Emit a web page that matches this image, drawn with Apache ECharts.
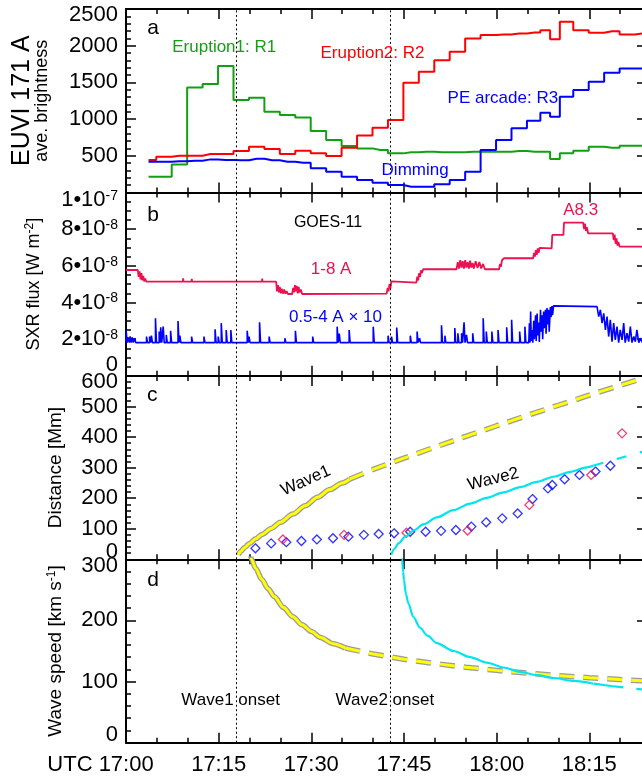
<!DOCTYPE html>
<html>
<head>
<meta charset="utf-8">
<script src="https://cdn.jsdelivr.net/npm/echarts@6/dist/echarts.min.js"></script>
<style>
html,body{margin:0;padding:0;background:#ffffff;}
#chart{width:642px;height:780px;}
</style>
</head>
<body>
<div id="chart"></div>
<script>
// ================= DATA (time = minutes after 17:00 UTC) =================
const xTickValues = [0, 15, 30, 45, 60, 75];
const xTickLabels = ['17:00', '17:15', '17:30', '17:45', '18:00', '18:15'];
const xTickPrefix = 'UTC ';
const onsetTimes = [17.85, 42.85];

// Panel a: EUVI 171 A average brightness
const euviTimes = [3.65, 6.15, 8.65, 11.15, 13.65, 16.15, 18.65, 21.15, 23.65, 26.15, 28.65, 31.15,
  33.65, 36.15, 38.65, 41.15, 43.65, 46.15, 48.65, 51.15, 53.65, 56.15, 58.65, 61.15, 63.65, 66.15,
  68.0, 69.3, 71.15, 73.65, 76.15, 78.65, 81.15, 83.65];
const euviR1 = [214, 214, 382, 1431, 1477, 1722, 1258, 1290, 1100, 1054, 1022, 836,
  714, 632, 600, 577, 532, 546, 555, 546, 546, 555, 555, 555, 564, 555,
  555, 455, 532, 568, 623, 609, 637, 637];
const euviR2 = [441, 487, 500, 500, 523, 523, 564, 623, 591, 523, 568, 532,
  496, 609, 774, 882, 986, 1495, 1644, 1803, 1917, 2098, 2144, 2153, 2167, 2180,
  2212, 2089, 2325, 2212, 2176, 2198, 2153, 2167];
const euviR3 = [419, 419, 423, 432, 450, 441, 437, 459, 437, 419, 405, 328,
  282, 214, 169, 133, 101, 78, 78, 110, 169, 282, 577, 714, 873, 977,
  1086, 1031, 1304, 1395, 1508, 1631, 1690, 1690];
const euviTickValues = [0, 500, 1000, 1500, 2000, 2500];
const euviTickLabels = ['', '500', '1000', '1500', '2000', '2500'];

// Panel b: GOES-11 SXR flux, in units of 1e-8 W m^-2
const sxrTickValues = [0, 2, 4, 6, 8, 10];
const sxrTickMantissa = ['0', '2•10', '4•10', '6•10', '8•10', '1•10'];
const sxrTickExponent = ['', '-8', '-8', '-8', '-8', '-7'];

const sxrLongT = [0, 1.9, 2.05, 2.2, 2.35, 2.5, 2.65, 2.8, 2.95, 3.1, 3.3,
  9.2, 9.25, 9.3, 10.6, 10.65, 10.7, 22.0, 22.05, 22.1,
  24.3, 24.45, 24.6, 24.75, 24.9, 25.05, 25.2, 25.4, 25.6, 25.8, 26.0, 26.2,
  26.9, 27.05, 27.2, 27.35, 27.5, 27.65, 27.8, 27.95, 28.1, 28.3, 28.5,
  42.2, 42.35, 42.5, 42.65, 42.8, 42.95, 43.1,
  47.0, 47.15, 47.3, 47.45, 47.6, 47.75, 47.9, 48.1,
  53.5, 53.7, 53.9, 54.1, 54.3, 54.5, 54.7, 54.9, 55.1, 55.3, 55.5, 55.7, 55.9, 56.1, 56.3, 56.6, 56.9, 57.2, 57.5, 57.8, 58.1,
  60.4, 60.55, 60.7, 60.85, 61.0, 61.2,
  65.9, 66.05, 66.2, 66.35, 66.5, 66.65, 66.8, 66.95, 67.1,
  68.9, 69.0, 70.8, 70.9,
  74.0, 74.15, 74.3, 74.45, 74.6, 74.8,
  78.8, 78.95, 79.1, 79.25, 79.4, 79.55, 79.7, 79.9,
  83.6, 83.8, 84.3];
const sxrLongV = [5.77, 5.77, 5.4, 5.7, 5.25, 5.6, 5.2, 5.45, 5.15, 5.3, 5.13,
  5.13, 5.32, 5.13, 5.13, 5.28, 5.13, 5.13, 5.3, 5.13,
  5.13, 4.6, 4.95, 4.55, 4.85, 4.5, 4.75, 4.48, 4.7, 4.48, 4.62, 4.46,
  4.46, 4.8, 4.55, 4.95, 4.6, 4.9, 4.5, 4.85, 4.55, 4.7, 4.46,
  4.48, 4.8, 4.6, 5.0, 4.75, 5.15, 5.08,
  5.08, 5.4, 5.2, 5.6, 5.4, 5.75, 5.6, 5.81,
  5.81, 6.2, 5.85, 6.3, 5.9, 6.25, 5.85, 6.3, 5.9, 6.2, 5.85, 6.28, 5.9, 6.15, 5.85, 6.25, 5.88, 6.2, 5.85, 6.1, 5.81,
  5.81, 6.1, 5.95, 6.3, 6.2, 6.41,
  6.41, 6.7, 6.5, 6.85, 6.6, 6.95, 6.7, 6.98, 6.95,
  6.95, 7.68, 7.68, 8.35,
  8.35, 8.0, 8.3, 7.9, 8.1, 7.77,
  7.77, 7.4, 7.7, 7.2, 7.5, 7.1, 7.3, 7.04,
  7.04, 6.85, 6.85];

const sxrShortBase = 1.81;
const sxrShortSpikeT = [0.1, 0.45, 0.75, 1.1, 1.5, 3.4, 3.9, 4.2, 4.85, 5.45, 5.7, 6.1, 6.6, 7.3, 8.5,
  8.8, 10.7, 12.7, 14.5, 15.0, 15.5, 16.3, 17.05, 19.7, 20.0, 21.7, 23.25, 25.8, 27.5, 30.3,
  34.26, 34.6, 36.2, 40.1, 42.5, 43.06, 43.9, 46.1, 47.2, 47.6, 51.15, 51.7, 53.3, 53.8, 54.4,
  54.8, 55.2, 56.2, 57.9, 58.4, 59.3, 60.3, 61.7, 62.5, 63.8, 64.65];
const sxrShortSpikeV = [2.5, 2.1, 2.15, 2.1, 2.05, 2.14, 2.14, 2.19, 3.14, 2.41, 2.65, 2.68, 2.23, 2.45, 2.99,
  2.19, 2.14, 2.14, 2.54, 2.14, 2.87, 2.5, 2.5, 2.45, 2.14, 2.92, 2.14, 2.05, 2.45, 2.14,
  2.68, 2.3, 2.5, 2.68, 2.19, 2.14, 2.63, 2.19, 2.41, 2.05, 2.75, 2.19, 2.6, 2.32, 2.32,
  2.92, 2.23, 2.32, 3.14, 2.41, 2.41, 2.5, 2.65, 3.05, 2.41, 2.68];
const sxrShortBurstT = [65.2, 65.3, 65.4, 65.5, 65.6, 65.75, 65.85, 66.0, 66.1, 66.3, 66.4, 66.55, 66.65, 66.8, 66.9,
  67.1, 67.2, 67.35, 67.45, 67.6, 67.7, 67.9, 68.0, 68.15, 68.25, 68.4, 68.5, 68.7, 68.8, 68.95, 69.05, 69.2,
  76.25, 76.52, 76.79, 77.06, 77.33, 77.6, 77.87, 78.13, 78.4, 78.67, 78.94, 79.2, 79.48, 79.75, 80.0,
  80.3, 80.56, 80.8, 81.1, 81.37, 81.64, 81.9, 82.2, 82.45, 82.7, 83.0, 83.26, 83.6, 84.3];
const sxrShortBurstV = [1.81, 2.87, 1.81, 3.5, 1.9, 2.5, 1.81, 3.0, 2.0, 3.3, 1.9, 3.4, 2.2, 2.9, 1.85,
  3.6, 2.4, 3.3, 2.0, 3.5, 2.6, 3.6, 2.3, 3.7, 2.8, 3.6, 2.4, 3.75, 3.2, 3.8, 3.3, 3.81,
  3.77, 3.23, 3.59, 2.87, 3.41, 2.5, 3.23, 2.14, 3.05, 1.86, 2.87, 1.96, 2.68, 1.81, 2.5,
  1.96, 2.87, 1.81, 2.32, 1.86, 2.68, 1.81, 2.14, 1.86, 2.5, 1.81, 2.05, 1.81, 1.81];

// Panel c: distance (Mm)
const distTickValues = [0, 100, 200, 300, 400, 500, 600];
const distTickLabels = ['0', '100', '200', '300', '400', '500', '600'];
const wave1DistSolidT = [18.2, 18.6, 19.2, 20.0, 21.0, 22.0, 23.5, 25.0, 27.0, 29.0, 31.0, 33.0, 35.0, 36.2];
const wave1DistSolidV = [15, 26, 39, 52, 67, 81, 101, 121, 148, 175, 203, 228, 250, 262];
const wave1DistDashT = [36.2, 40, 45, 50, 55, 60, 65, 70, 75, 80, 84.3];
const wave1DistDashV = [262, 294, 331, 367, 402, 437, 471, 504, 537, 569, 596];
const wave2DistSolidT = [42.95, 43.4, 44.1, 45.2, 46.6, 48.2, 50.3, 53.0, 55.7, 58.4, 61.1, 63.8, 66.5, 69.2, 71.9, 74.6, 75.7];
const wave2DistSolidV = [15, 33, 52, 74, 95, 115, 137, 161, 182, 201, 219, 236, 253, 270, 286, 301, 307];
const wave2DistDashT = [75.7, 78.7, 82.7, 84.3];
const wave2DistDashV = [307, 324, 347, 356];
const frontBlueT = [20.95, 23.5, 25.95, 28.4, 30.9, 33.5, 36.0, 38.5, 40.9, 43.4, 46.0, 48.5, 51.0, 53.4,
  55.9, 58.3, 60.9, 63.4, 65.8, 68.3, 69.0, 71.0, 73.4, 76.0, 78.4];
const frontBlueD = [36, 52, 56, 60, 65, 69, 74, 80, 83, 85, 90, 90, 93, 96,
  107, 121, 134, 150, 197, 232, 243, 262, 276, 287, 306];
const frontRedT = [25.4, 35.3, 45.4, 55.3, 65.3, 75.3, 80.3];
const frontRedD = [65, 80, 87, 94, 178, 276, 412];

// Panel d: wave speed (km/s)
const speedTickValues = [0, 100, 200, 300];
const speedTickLabels = ['0', '100', '200', '300'];
const wave1SpeedSolidT = [20.1, 20.3, 21.0, 22.0, 23.0, 24.0, 25.5, 27.0, 28.5, 30.0, 31.5, 33.5, 35.5];
const wave1SpeedSolidV = [312, 300, 285, 267, 252, 239, 221, 206, 193, 182, 172, 162, 155];
const wave1SpeedDashT = [35.5, 40, 45, 50, 55, 60, 65, 70, 75, 80, 84.3];
const wave1SpeedDashV = [155, 145, 136.5, 129.5, 123.5, 118.3, 113.8, 109.8, 106.3, 103.2, 100.8];
const wave2SpeedSolidT = [44.6, 44.7, 44.85, 45.0, 45.3, 45.7, 46.5, 47.6, 48.8, 50.3, 53.0, 55.7, 58.4, 61.1, 63.8, 66.5, 69.2, 72.5, 75.7];
const wave2SpeedSolidV = [315, 300, 280, 266, 244, 228, 206, 188, 175, 163, 150, 140, 131, 123, 116, 110.5, 105.8, 101, 96.5];
const wave2SpeedDashT = [75.7, 78.5, 81.0, 84.3];
const wave2SpeedDashV = [96.5, 92.8, 89.8, 86.3];

// ================= STYLE / LAYOUT =================
const FONT = '"Liberation Sans", Arial, Helvetica, sans-serif';
const GREEN = '#12a012', RED = '#ff0000', BLUE = '#0000ff', CRIMSON = '#ee1150';
const CYAN = '#00e5ee', YELLOW = '#ffff00', YGRAY = '#9a9a9a';
const X_MAX = 90;               // axis continues past the cropped right edge
const GRID_TOPS = [9, 192.4, 375.9, 559.3];
const GRID_H = 183.4;
const GRID_LEFT = 126, GRID_W = 556;
const RIGHT_AXIS_OFFSET = -35;  // right frame at about 18:24

const zip = (T, V) => T.map((t, i) => [t, V[i]]);

function labelRich(downPx, upPx) {
  const base = {fontSize: 22, fontFamily: FONT, color: '#000'};
  const sup = {fontSize: 14, fontFamily: FONT, color: '#000', verticalAlign: 'top'};
  return {
    m: base,
    t: Object.assign({}, base, {padding: [2 * downPx, 0, 0, 0]}),
    b: Object.assign({}, base, {padding: [0, 0, 2 * upPx, 0]}),
    e: sup,
    et: Object.assign({}, sup, {padding: [2 * downPx, 0, 0, 0]})
  };
}
function labelFmt(vals, mant, exps) {
  return v => {
    const i = vals.indexOf(v);
    if (i < 0 || mant[i] === '') return '';
    const pos = i === vals.length - 1 ? 't' : (i === 0 ? 'b' : 'm');
    const ex = exps && exps[i] ? `{${pos === 't' ? 'et' : 'e'}|${exps[i]}}` : '';
    return `{${pos}|${mant[i]}}` + ex;
  };
}

const lineW = {color: '#000', width: 1.5};
function xPair(g) {
  const common = {type: 'value', gridIndex: g, min: 0, max: X_MAX, interval: 15,
    axisLine: {show: true, onZero: false, lineStyle: {color: '#000', width: 2}},
    axisTick: {show: true, inside: true, length: 10, lineStyle: lineW},
    minorTick: {show: true, splitNumber: 3, length: 5, lineStyle: lineW},
    splitLine: {show: false}, minorSplitLine: {show: false}};
  const bottomLabel = g === 3 ? {
    show: true, margin: 11, fontSize: 22, fontFamily: FONT, color: '#000',
    showMinLabel: true, showMaxLabel: true,
    rich: {u: {fontSize: 22, fontFamily: FONT, color: '#000'}, sp: {width: 51, fontSize: 22}},
    formatter: v => {
      const i = xTickValues.indexOf(v);
      if (i < 0) return '';
      return i === 0 ? `{u|${xTickPrefix}}${xTickLabels[0]}{sp| }` : xTickLabels[i];
    }
  } : {show: false};
  return [
    Object.assign({}, common, {position: 'bottom', axisLabel: bottomLabel}),
    Object.assign({}, common, {position: 'top', axisLabel: {show: false}})
  ];
}
function yPair(g, ticks, mant, exps, minor, nameCfg, down, up) {
  const common = {type: 'value', gridIndex: g, min: ticks[0], max: ticks[ticks.length - 1],
    interval: ticks[1] - ticks[0],
    axisLine: {show: true, onZero: false, lineStyle: {color: '#000', width: 2}},
    axisTick: {show: true, inside: true, length: 10, lineStyle: lineW},
    minorTick: {show: true, splitNumber: minor, length: 5, lineStyle: lineW},
    splitLine: {show: false}, minorSplitLine: {show: false}};
  const left = Object.assign({}, common, {position: 'left',
    name: nameCfg.text, nameLocation: 'middle', nameGap: nameCfg.gap, nameRotate: 90,
    nameTextStyle: {fontSize: nameCfg.size, fontFamily: FONT, color: '#000', lineHeight: nameCfg.lh,
      rich: {
        s: {fontSize: 12, fontFamily: FONT, color: '#000', verticalAlign: 'top'},
        w: {fontSize: 25, fontFamily: FONT, color: '#000', lineHeight: 21},
        v: {fontSize: 18, fontFamily: FONT, color: '#000', lineHeight: 18}
      }},
    axisLabel: {show: true, margin: 8, showMinLabel: true, showMaxLabel: true,
      fontSize: 22, fontFamily: FONT, color: '#000',
      rich: labelRich(down, up), formatter: labelFmt(ticks, mant, exps)}});
  const right = Object.assign({}, common, {position: 'right', offset: RIGHT_AXIS_OFFSET, axisLabel: {show: false}});
  return [left, right];
}

const xAxes = [].concat(xPair(0), xPair(1), xPair(2), xPair(3));
const yAxes = [].concat(
  yPair(0, euviTickValues, euviTickLabels, null, 5,
    {text: '{w|EUVI 171 A}\n{v|ave. brightness}', gap: 75, size: 19, lh: 19}, 6, 0),
  yPair(1, sxrTickValues, sxrTickMantissa, sxrTickExponent, 4, {text: 'SXR flux [W m{s|-2}]', gap: 82, size: 18, lh: 20}, 8, 11),
  yPair(2, distTickValues, distTickLabels, null, 5, {text: 'Distance [Mm]', gap: 60, size: 19, lh: 20}, 6, 7),
  yPair(3, speedTickValues, speedTickLabels, null, 5, {text: 'Wave speed [km s{s|-1}]', gap: 60, size: 19, lh: 20}, 7, 8)
);

// ---------- series ----------
const series = [];
function addLine(g, data, style, extra) {
  series.push(Object.assign({type: 'line', xAxisIndex: 2 * g, yAxisIndex: 2 * g, data: data,
    symbol: 'none', showSymbol: false, silent: true, animation: false,
    emphasis: {disabled: true}, lineStyle: style}, extra || {}));
  return series.length - 1;
}
const onsetMark = {silent: true, symbol: ['none', 'none'], animation: false,
  label: {show: false}, emphasis: {disabled: true},
  lineStyle: {color: '#000', width: 1, type: [2, 2.5]},
  data: onsetTimes.map(t => ({xAxis: t}))};

// panel a
const sA = addLine(0, zip(euviTimes, euviR1), {color: GREEN, width: 2}, {step: 'middle', markLine: onsetMark});
addLine(0, zip(euviTimes, euviR2), {color: RED, width: 2}, {step: 'middle'});
addLine(0, zip(euviTimes, euviR3), {color: BLUE, width: 2}, {step: 'middle'});

// panel b
const sxrShortData = [[0, sxrShortBase]];
sxrShortSpikeT.forEach((t, i) => {
  sxrShortData.push([t - 0.08, sxrShortBase], [t - 0.08, sxrShortSpikeV[i]],
    [t + 0.08, sxrShortSpikeV[i]], [t + 0.08, sxrShortBase]);
});
sxrShortBurstT.forEach((t, i) => sxrShortData.push([t, sxrShortBurstV[i]]));
sxrShortData.sort((a, b) => a[0] - b[0]);
const sB = addLine(1, zip(sxrLongT, sxrLongV), {color: CRIMSON, width: 1.8}, {markLine: onsetMark});
addLine(1, sxrShortData, {color: BLUE, width: 1.6});

// panel c
const smooth = {smooth: 0.3, smoothMonotone: 'x'};
const sC = addLine(2, zip(wave1DistSolidT, wave1DistSolidV), {color: YGRAY, width: 5.5}, Object.assign({markLine: onsetMark}, smooth));
addLine(2, zip(wave1DistSolidT, wave1DistSolidV), {color: YELLOW, width: 3}, smooth);
addLine(2, zip(wave1DistDashT, wave1DistDashV), {color: YGRAY, width: 5.5, type: [15, 9]});
addLine(2, zip(wave1DistDashT, wave1DistDashV), {color: YELLOW, width: 3, type: [15, 9]});
addLine(2, zip(wave2DistSolidT, wave2DistSolidV), {color: CYAN, width: 2.2}, smooth);
addLine(2, zip(wave2DistDashT, wave2DistDashV), {color: CYAN, width: 2.2, type: [10, 14]});
series.push({type: 'scatter', xAxisIndex: 4, yAxisIndex: 4, data: zip(frontBlueT, frontBlueD),
  symbol: 'diamond', symbolSize: 9, silent: true, animation: false, emphasis: {disabled: true},
  itemStyle: {color: 'rgba(0,0,0,0)', borderColor: BLUE, borderWidth: 1.3}});
series.push({type: 'scatter', xAxisIndex: 4, yAxisIndex: 4, data: zip(frontRedT, frontRedD),
  symbol: 'diamond', symbolSize: 9, silent: true, animation: false, emphasis: {disabled: true},
  itemStyle: {color: 'rgba(0,0,0,0)', borderColor: CRIMSON, borderWidth: 1.3}});

// panel d
const sD = addLine(3, zip(wave1SpeedSolidT, wave1SpeedSolidV), {color: YGRAY, width: 5.5}, Object.assign({markLine: onsetMark}, smooth));
addLine(3, zip(wave1SpeedSolidT, wave1SpeedSolidV), {color: YELLOW, width: 3}, smooth);
addLine(3, zip(wave1SpeedDashT, wave1SpeedDashV), {color: YGRAY, width: 5.5, type: [15, 9]});
addLine(3, zip(wave1SpeedDashT, wave1SpeedDashV), {color: YELLOW, width: 3, type: [15, 9]});
addLine(3, zip(wave2SpeedSolidT, wave2SpeedSolidV), {color: CYAN, width: 2.2}, smooth);
addLine(3, zip(wave2SpeedDashT, wave2SpeedDashV), {color: CYAN, width: 2.2, type: [30, 13]});

const chart = echarts.init(document.getElementById('chart'), null, {renderer: 'canvas'});
chart.setOption({
  animation: false,
  backgroundColor: '#ffffff',
  grid: GRID_TOPS.map(top => ({left: GRID_LEFT, top: top, width: GRID_W, height: GRID_H,
    containLabel: false, outerBoundsMode: 'none'})),
  xAxis: xAxes,
  yAxis: yAxes,
  series: series
});

// ---------- text annotations anchored in data coordinates ----------
const gridSeries = [sA, sB, sC, sD];
const annotations = [
  {g: 0, t: 4.4, v: 2239, text: 'a', color: '#000', size: 21},
  {g: 0, t: 15.9, v: 1984, text: 'Eruption1: R1', color: GREEN, size: 17},
  {g: 0, t: 39.9, v: 1892, text: 'Eruption2: R2', color: RED, size: 17},
  {g: 0, t: 61.0, v: 1286, text: 'PE arcade: R3', color: BLUE, size: 17},
  {g: 0, t: 46.8, v: 305, text: 'Dimming', color: BLUE, size: 17},
  {g: 1, t: 4.4, v: 8.77, text: 'b', color: '#000', size: 21},
  {g: 1, t: 32.7, v: 8.33, text: 'GOES-11', color: '#000', size: 16},
  {g: 1, t: 33.2, v: 5.83, text: '1-8 A', color: CRIMSON, size: 17},
  {g: 1, t: 73.6, v: 9.01, text: 'A8.3', color: CRIMSON, size: 17},
  {g: 1, t: 33.9, v: 3.18, text: '0.5-4 A \u00d7 10', color: BLUE, size: 17},
  {g: 2, t: 4.25, v: 536, text: 'c', color: '#000', size: 21},
  {g: 2, t: 29.1, v: 257, text: 'Wave1', color: '#000', size: 17, rot: 24},
  {g: 2, t: 59.45, v: 262, text: 'Wave2', color: '#000', size: 17, rot: 14},
  {g: 3, t: 4.4, v: 266, text: 'd', color: '#000', size: 21},
  {g: 3, t: 16.94, v: 69.8, text: 'Wave1 onset', color: '#000', size: 17},
  {g: 3, t: 41.9, v: 69.8, text: 'Wave2 onset', color: '#000', size: 17}
];
chart.setOption({
  graphic: annotations.map(a => {
    const p = chart.convertToPixel({seriesIndex: gridSeries[a.g]}, [a.t, a.v]);
    return {type: 'text', x: p[0], y: p[1], rotation: (a.rot || 0) * Math.PI / 180, silent: true, z: 100,
      style: {text: a.text, fill: a.color, font: a.size + 'px ' + FONT,
        align: 'center', verticalAlign: 'middle', textAlign: 'center', textVerticalAlign: 'middle'}};
  })
});
</script>
</body>
</html>
